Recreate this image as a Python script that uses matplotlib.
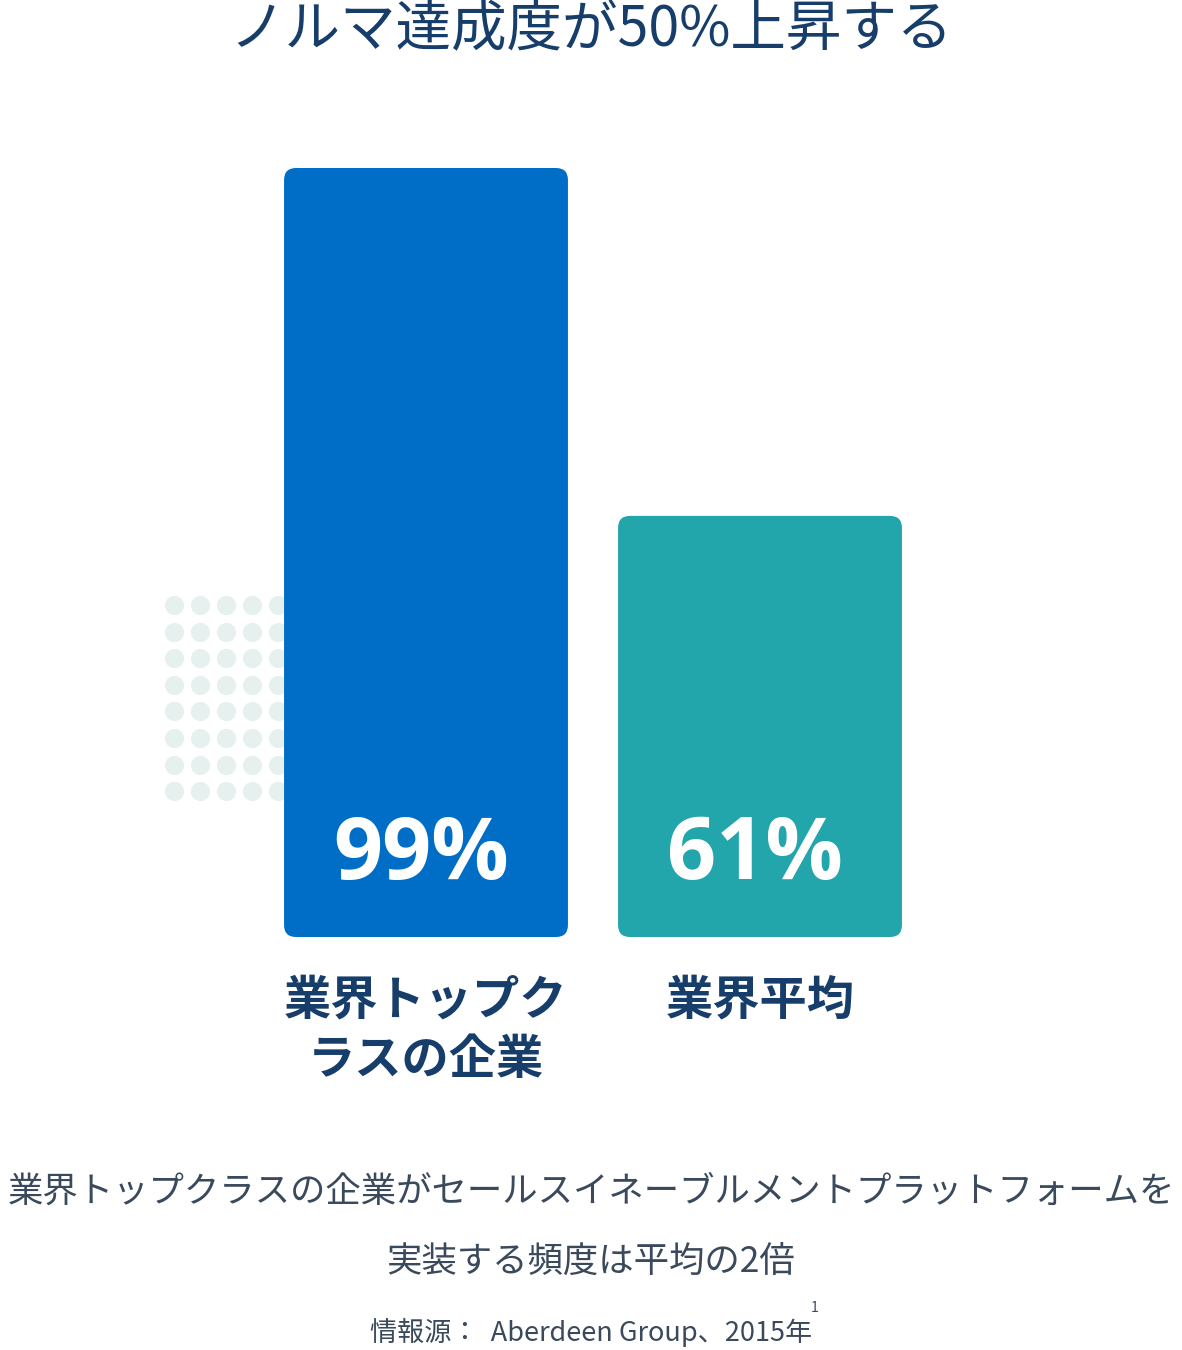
import matplotlib
matplotlib.use("Agg")
import matplotlib.pyplot as plt
from matplotlib.patches import FancyBboxPatch

plt.rcParams['font.family'] = ['Noto Sans CJK JP', 'DejaVu Sans']

categories = ["業界トップク\nラスの企業", "業界平均"]
values = [99, 61]
value_labels = ["99%", "61%"]
colors = ["#006ec6", "#22a6ab"]
title = "ノルマ達成度が50%上昇する"
subtitle1 = "業界トップクラスの企業がセールスイネーブルメントプラットフォームを"
subtitle2 = "実装する頻度は平均の2倍"
source = "情報源：  Aberdeen Group、2015年"

W, H = 1182, 1350
fig = plt.figure(figsize=(W/100, H/100), dpi=100)
navy = "#173e6a"

# background dots
bg = fig.add_axes([0, 0, 1, 1])
bg.set_xlim(0, W); bg.set_ylim(H, 0); bg.axis('off')
xs, ys = [], []
for i in range(8):
    for j in range(5):
        xs.append(174 + 26*j); ys.append(605 + 26.6*i)
bg.scatter(xs, ys, s=190, color="#e6f0ee", linewidths=0, zorder=0)

base = 15
ax = fig.add_axes([259/W, (H-937)/H, 668/W, 769/H])
ax.set_xlim(-0.5, 1.5); ax.set_ylim(base, 99)
ax.axis('off')
bw = 0.85
px_x = 668/2; px_y = 769/(99-base)
r = 12/px_x
for i, (v, c, lab) in enumerate(zip(values, colors, value_labels)):
    p = FancyBboxPatch((i-bw/2, base), bw, v-base,
                       boxstyle=f"round,pad=0,rounding_size={r}",
                       mutation_aspect=px_x/px_y, fc=c, ec='none')
    ax.add_patch(p)
    ax.text(i-0.015, base + 80/px_y, lab, ha='center', va='center', color='white',
            fontsize=62, fontweight='bold', family=['Open Sans', 'DejaVu Sans'])
    ax.text(i, base - 40/px_y, categories[i], ha='center', va='top', color=navy,
            fontsize=34, fontweight='bold', linespacing=1.3, clip_on=False)

fig.text(0.5, 1-30/H, title, ha='center', va='center', color=navy, fontsize=40)
fig.text(0.5, 1-1192/H, subtitle1, ha='center', va='center', color="#3a4a5c", fontsize=25.5)
fig.text(0.5, 1-1262/H, subtitle2, ha='center', va='center', color="#3a4a5c", fontsize=25.5)
fig.text(0.5, 1-1332/H, source, ha='center', va='center', color="#3a4a5c", fontsize=19.5)
fig.text(815/W, 1-1308/H, "1", ha='center', va='center', color="#3a4a5c", fontsize=10)

fig.savefig("out.png", dpi=100)
